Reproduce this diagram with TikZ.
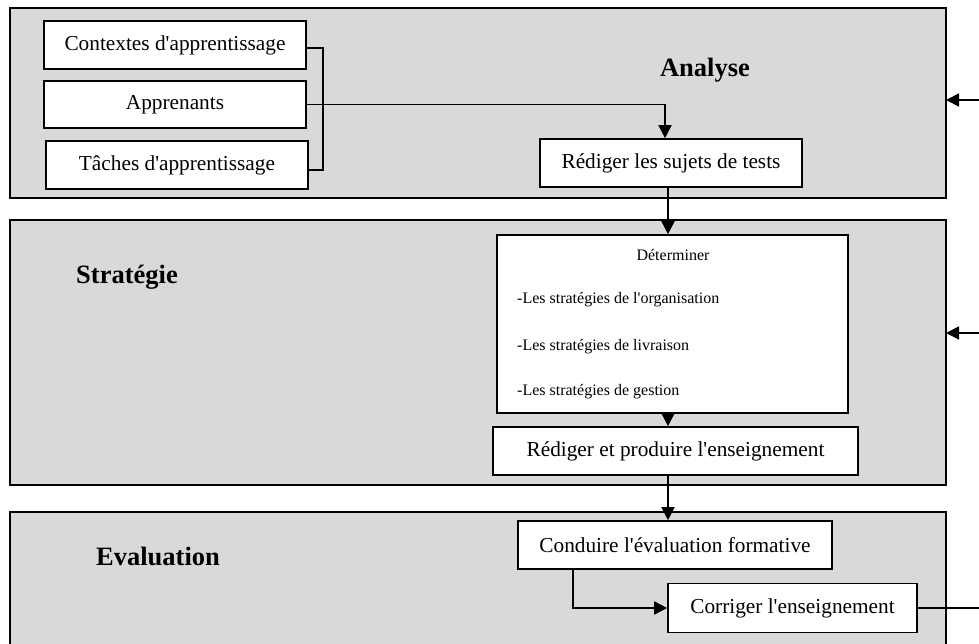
\documentclass[tikz,border=0pt]{standalone}
\usepackage{fontspec}
\setmainfont{Liberation Serif}
\usetikzlibrary{arrows.meta}
\definecolor{panelgray}{RGB}{217,217,217}
\newcommand{\ap}{\textquotesingle}
\tikzset{
  x=1pt, y=-1pt,
  panel/.style={draw=black, fill=panelgray, line width=1.6pt},
  box/.style={draw=black, fill=white, line width=1.6pt, inner sep=0pt, font=\fontsize{21.3}{24}\selectfont},
  title/.style={font=\fontsize{26.5}{30}\selectfont\bfseries, inner sep=0pt},
  small/.style={font=\fontsize{16}{19}\selectfont, inner sep=0pt},
  conn/.style={line width=1.6pt},
  arr/.style={line width=1.6pt, -{Triangle[length=13pt,width=13pt]}}
}
\begin{document}
\begin{tikzpicture}
\useasboundingbox (0,0) rectangle (979,644);
\clip (0,0) rectangle (979,644);
% panels
\draw[panel] (10,8) rectangle (946,198);
\draw[panel] (10,220) rectangle (946,485);
\draw[panel] (10,512) rectangle (946,680);
\coordinate (p1e) at (946,100);
\coordinate (p2e) at (946,333);
\coordinate (fb1) at (979,100);
\coordinate (fb2) at (979,333);
% titles
\node[title] (tA) at (705,70) {Analyse};
\node[title] (tS) at (127,277) {Stratégie};
\node[title] (tE) at (158,556) {Evaluation};
% boxes
\node[box, minimum width=262pt, minimum height=48pt] (ctx) at (175,45) {Contextes d\ap apprentissage};
\node[box, minimum width=262pt, minimum height=47pt] (app) at (175,104.5) {Apprenants};
\node[box, minimum width=262pt, minimum height=48pt] (tac) at (177,165) {Tâches d\ap apprentissage};
\node[box, minimum width=262pt, minimum height=48pt] (rst) at (671,163) {Rédiger les sujets de tests};
\node[box, minimum width=351pt, minimum height=178pt] (det) at (672.5,324) {};
\node[small] (d0) at (673,255) {Déterminer};
\node[small, anchor=west] (d1) at (517,300) {-Les stratégies de l\ap organisation};
\node[small, anchor=west] (d2) at (517,347) {-Les stratégies de livraison};
\node[small, anchor=west] (d3) at (517,392) {-Les stratégies de gestion};
\node[box, minimum width=365pt, minimum height=48pt] (rpe) at (675.5,451) {Rédiger et produire l\ap enseignement};
\node[box, minimum width=314pt, minimum height=48pt] (cef) at (675,545) {Conduire l\ap évaluation formative};
\node[box, minimum width=249pt, minimum height=49pt] (cor) at (792.5,608) {Corriger l\ap enseignement};
\coordinate (fb3) at (979,608);
% connectors
\draw[conn] ([yshift=-3pt]ctx.east) -- ++(16,0) |- ([yshift=-5pt]tac.east);
\draw[arr] (app.east) -| ([xshift=-6pt]rst.north);
\draw[arr] ([xshift=-3pt]rst.south) -- ([xshift=-4.5pt]det.north);
\draw[arr] ([xshift=-4.5pt]det.south) -- ([xshift=-7.5pt]rpe.north);
\draw[arr] ([xshift=-7.5pt]rpe.south) -- ([xshift=-7pt]cef.north);
\draw[arr] (cef.south -| 573,0) |- (cor.west);
\draw[conn] (cor.east) -- (fb3);
\draw[arr] (fb1) -- (p1e);
\draw[arr] (fb2) -- (p2e);
\end{tikzpicture}
\end{document}
